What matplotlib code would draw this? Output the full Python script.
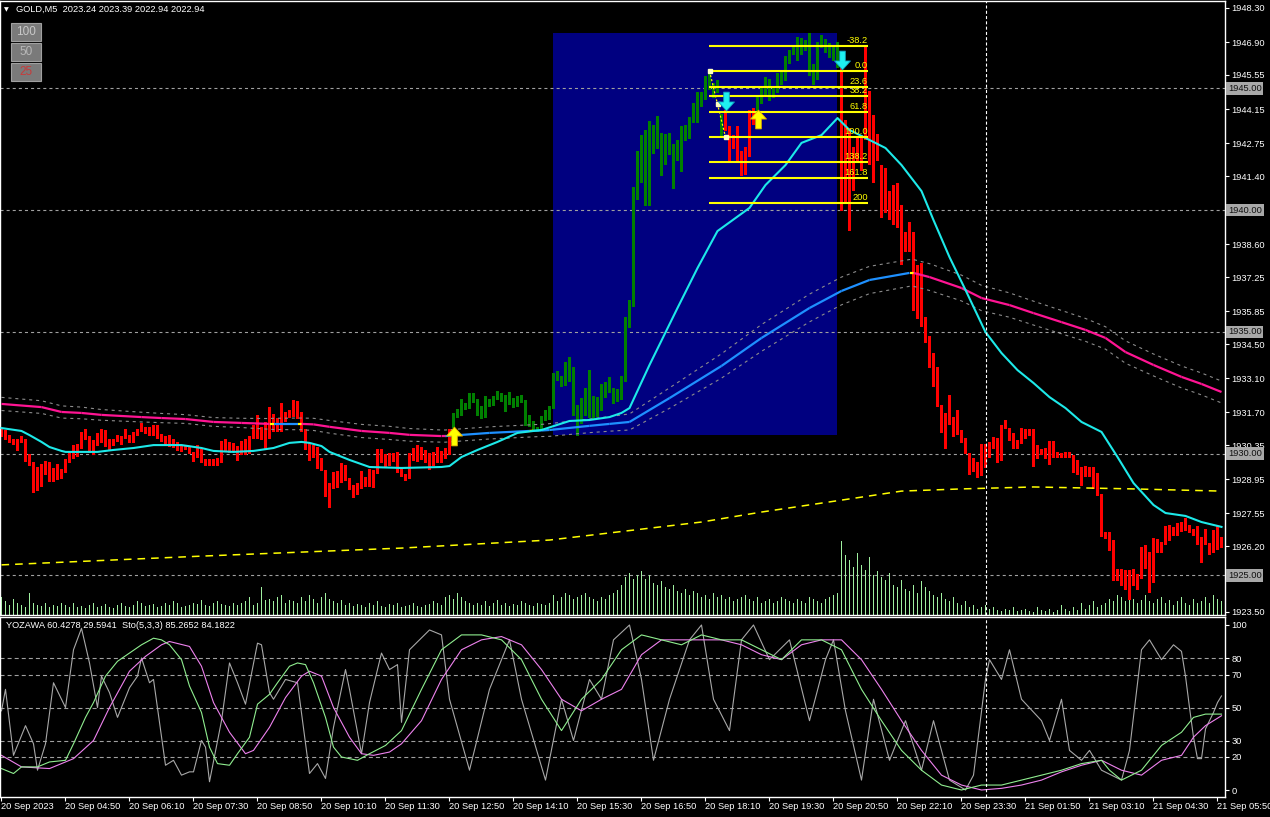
import matplotlib
matplotlib.use('Agg')
import matplotlib.pyplot as plt
import matplotlib.transforms as mtransforms
from matplotlib.patches import Rectangle
from matplotlib.path import Path
from matplotlib.collections import LineCollection
import numpy as np

plt.rcParams['font.family'] = ['Liberation Sans', 'DejaVu Sans']
plt.rcParams['lines.scale_dashes'] = False

# ---------------- DATA ----------------
title_text = "GOLD,M5  2023.24 2023.39 2022.94 2022.94"
osc_text = "YOZAWA 60.4278 29.5941  Sto(5,3,3) 85.2652 84.1822"

time_labels = ["20 Sep 2023", "20 Sep 04:50", "20 Sep 06:10", "20 Sep 07:30", "20 Sep 08:50",
               "20 Sep 10:10", "20 Sep 11:30", "20 Sep 12:50", "20 Sep 14:10", "20 Sep 15:30",
               "20 Sep 16:50", "20 Sep 18:10", "20 Sep 19:30", "20 Sep 20:50", "20 Sep 22:10",
               "20 Sep 23:30", "21 Sep 01:50", "21 Sep 03:10", "21 Sep 04:30", "21 Sep 05:50"]
time_label_bars = list(range(0, 305, 16))

price_ticks = [1948.30, 1946.90, 1945.55, 1944.15, 1942.75, 1941.40, 1940.00, 1938.60, 1937.25,
               1935.85, 1934.50, 1933.10, 1931.70, 1930.35, 1928.95, 1927.55, 1926.20, 1924.85, 1923.50]
level_lines = [1945.00, 1940.00, 1935.00, 1930.00, 1925.00]
osc_ticks = [100, 80, 70, 50, 30, 20, 0]
osc_levels = [80, 70, 50, 30, 20]

body_top = [
 1931.03, 1930.97, 1930.76, 1930.58, 1930.58, 1930.72, 1930.62, 1929.98, 1929.67, 1929.43,
 1929.57, 1929.69, 1929.67, 1929.39, 1929.57, 1929.35, 1929.76, 1930.12, 1930.35, 1930.39,
 1930.90, 1930.99, 1930.72, 1930.56, 1930.86, 1931.03, 1930.97, 1930.58, 1930.58, 1930.76,
 1930.72, 1930.99, 1930.76, 1930.90, 1930.99, 1931.27, 1931.10, 1931.10, 1931.17, 1931.17,
 1930.80, 1930.72, 1930.76, 1930.58, 1930.49, 1930.35, 1930.35, 1930.28, 1930.08, 1930.35,
 1930.17, 1929.78, 1929.78, 1929.78, 1929.84, 1930.52, 1930.58, 1930.49, 1930.45, 1930.31,
 1930.52, 1930.58, 1930.72, 1931.17, 1931.58, 1931.10, 1931.31, 1931.90, 1931.62, 1931.45,
 1932.06, 1931.72, 1931.79, 1932.20, 1932.16, 1931.69, 1931.03, 1930.42, 1930.35, 1930.28,
 1929.81, 1929.33, 1928.81, 1929.26, 1929.29, 1929.63, 1929.53, 1929.00, 1928.71, 1928.81,
 1929.30, 1929.05, 1929.37, 1929.33, 1930.19, 1930.19, 1929.98, 1930.01, 1930.01, 1930.07,
 1929.40, 1929.16, 1930.01, 1930.24, 1930.35, 1930.26, 1930.15, 1930.01, 1930.08, 1930.28,
 1930.11, 1930.24, 1931.01, 1931.68, 1931.83, 1932.24, 1932.06, 1932.50, 1932.50, 1932.24,
 1931.96, 1932.37, 1932.24, 1932.37, 1932.57, 1932.48, 1932.41, 1932.52, 1932.28, 1932.37,
 1932.41, 1932.20, 1931.59, 1931.34, 1931.11, 1931.55, 1931.79, 1931.96, 1933.30, 1933.39,
 1933.19, 1933.78, 1933.95, 1933.54, 1932.00, 1932.30, 1932.71, 1933.43, 1932.37, 1932.34,
 1932.86, 1932.93, 1933.13, 1932.71, 1932.65, 1933.19, 1935.62, 1936.31, 1940.95, 1942.41,
 1943.10, 1943.30, 1943.65, 1943.48, 1943.85, 1943.17, 1943.13, 1943.17, 1942.72, 1942.87,
 1943.44, 1943.48, 1943.81, 1944.40, 1944.84, 1944.84, 1945.52, 1945.70, 1945.22, 1945.36,
 1943.95, 1944.13, 1943.47, 1943.10, 1943.44, 1942.41, 1942.59, 1944.13, 1944.19, 1944.74,
 1945.08, 1945.45, 1945.39, 1945.08, 1945.63, 1945.77, 1946.34, 1946.59, 1946.80, 1947.10,
 1947.07, 1946.97, 1947.27, 1946.00, 1946.91, 1947.18, 1947.04, 1946.86, 1946.73, 1946.91,
 1945.97, 1943.72, 1943.37, 1942.58, 1942.96, 1943.10, 1946.73, 1944.88, 1943.92, 1943.13,
 1941.87, 1941.73, 1940.80, 1941.02, 1941.11, 1940.22, 1939.11, 1939.52, 1939.11, 1937.74,
 1937.81, 1935.62, 1934.83, 1934.14, 1933.57, 1931.99, 1931.68, 1932.40, 1931.51, 1931.79,
 1930.97, 1930.66, 1930.01, 1929.80, 1929.66, 1930.39, 1930.39, 1930.49, 1930.69, 1930.66,
 1931.17, 1931.38, 1931.07, 1930.86, 1930.56, 1931.07, 1931.03, 1931.03, 1930.99, 1930.35,
 1930.18, 1930.21, 1930.51, 1930.51, 1930.07, 1930.01, 1930.07, 1930.07, 1929.94, 1929.73,
 1929.46, 1929.49, 1929.46, 1929.43, 1929.19, 1928.34, 1926.79, 1926.79, 1926.45, 1925.28,
 1925.28, 1925.22, 1925.22, 1925.28, 1925.05, 1926.15, 1926.24, 1925.97, 1926.52, 1926.48,
 1926.38, 1927.02, 1927.06, 1926.97, 1927.13, 1927.20, 1927.37, 1927.06, 1926.89, 1927.02,
 1926.56, 1926.89, 1926.34, 1926.86, 1927.02, 1926.56]

body_bot = [
 1930.67, 1930.56, 1930.42, 1930.35, 1930.12, 1930.42, 1929.67, 1929.49, 1928.37, 1928.48,
 1928.64, 1929.12, 1928.85, 1928.85, 1928.91, 1928.97, 1929.19, 1929.63, 1929.76, 1929.87,
 1930.19, 1930.56, 1930.01, 1929.94, 1930.31, 1930.45, 1930.28, 1930.15, 1930.31, 1930.49,
 1930.35, 1930.58, 1930.42, 1930.45, 1930.72, 1930.90, 1930.80, 1930.72, 1930.72, 1930.58,
 1930.49, 1930.35, 1930.28, 1930.21, 1930.12, 1930.08, 1930.15, 1929.98, 1929.67, 1929.80,
 1929.60, 1929.49, 1929.49, 1929.49, 1929.49, 1929.63, 1930.12, 1930.01, 1930.08, 1929.69,
 1929.94, 1929.94, 1929.98, 1930.58, 1930.58, 1930.56, 1930.17, 1930.58, 1930.90, 1930.90,
 1930.90, 1931.31, 1931.45, 1931.51, 1931.41, 1930.90, 1930.15, 1929.69, 1929.84, 1929.35,
 1929.30, 1928.20, 1927.78, 1928.53, 1928.60, 1928.78, 1928.88, 1928.50, 1928.19, 1928.30,
 1928.53, 1928.64, 1928.64, 1928.60, 1929.16, 1929.63, 1929.46, 1929.51, 1929.67, 1929.22,
 1929.03, 1928.88, 1928.96, 1929.70, 1929.67, 1929.74, 1929.63, 1929.33, 1929.51, 1929.63,
 1929.63, 1929.78, 1929.94, 1931.04, 1931.48, 1931.56, 1931.79, 1931.83, 1932.09, 1931.56,
 1931.41, 1931.48, 1931.93, 1931.96, 1932.20, 1932.13, 1931.72, 1932.00, 1931.89, 1931.93,
 1932.09, 1931.15, 1931.11, 1930.97, 1930.90, 1930.97, 1931.35, 1931.38, 1931.83, 1932.98,
 1932.75, 1932.79, 1932.96, 1931.55, 1930.74, 1931.20, 1931.56, 1931.48, 1931.38, 1931.52,
 1931.75, 1932.30, 1932.48, 1932.02, 1932.13, 1932.20, 1932.96, 1935.14, 1936.02, 1940.43,
 1941.11, 1940.18, 1940.18, 1942.32, 1942.52, 1941.42, 1941.87, 1942.28, 1940.88, 1942.00,
 1941.57, 1942.83, 1942.92, 1943.58, 1943.58, 1944.24, 1944.54, 1944.95, 1944.61, 1944.81,
 1942.99, 1943.24, 1942.03, 1942.52, 1942.03, 1941.42, 1941.46, 1942.17, 1943.51, 1944.06,
 1944.36, 1944.74, 1944.50, 1944.61, 1944.81, 1945.13, 1945.32, 1946.00, 1946.38, 1946.11,
 1946.38, 1946.52, 1945.52, 1945.15, 1945.36, 1946.66, 1946.45, 1946.25, 1946.11, 1945.84,
 1939.95, 1940.29, 1939.16, 1940.77, 1942.00, 1941.59, 1942.89, 1941.87, 1941.11, 1942.00,
 1939.68, 1939.88, 1939.61, 1939.40, 1939.27, 1937.74, 1938.29, 1938.29, 1935.87, 1935.52,
 1935.21, 1934.55, 1933.53, 1932.72, 1931.90, 1930.83, 1930.19, 1931.17, 1930.69, 1930.76,
 1930.45, 1929.97, 1929.12, 1929.25, 1929.01, 1929.08, 1929.39, 1929.84, 1930.17, 1929.60,
 1929.71, 1931.03, 1930.53, 1930.17, 1930.17, 1930.38, 1930.60, 1930.72, 1929.46, 1929.76,
 1929.94, 1929.76, 1929.53, 1929.80, 1929.80, 1929.80, 1929.80, 1929.80, 1929.21, 1929.12,
 1928.66, 1929.05, 1929.05, 1928.53, 1928.26, 1926.59, 1926.48, 1925.99, 1924.78, 1924.78,
 1924.56, 1924.39, 1923.98, 1924.56, 1924.39, 1924.83, 1925.28, 1924.28, 1924.70, 1925.93,
 1925.90, 1926.24, 1926.42, 1926.61, 1926.61, 1926.79, 1926.83, 1926.72, 1926.61, 1926.24,
 1925.52, 1926.24, 1925.83, 1925.90, 1926.04, 1926.11]

# trend regimes: (first bar, last bar, kind)
regimes = [(0, 112, 'down'), (113, 180, 'up'), (181, 188, 'down'), (189, 209, 'up'), (210, 305, 'down')]

volume = [
 180, 140, 100, 160, 120, 100, 80, 220, 120, 100, 90, 120, 80, 100, 90, 120, 100, 80, 120, 80,
 90, 70, 100, 120, 80, 90, 110, 80, 70, 100, 120, 90, 80, 100, 140, 120, 90, 100, 110, 80,
 90, 120, 100, 140, 120, 80, 90, 100, 120, 110, 150, 100, 90, 120, 140, 110, 100, 90, 120, 100,
 120, 140, 180, 100, 120, 280, 150, 160, 140, 180, 200, 120, 150, 140, 120, 180, 140, 200, 160, 120,
 180, 220, 160, 140, 120, 150, 100, 120, 90, 110, 100, 80, 120, 100, 140, 90, 80, 110, 100, 120,
 80, 90, 100, 120, 90, 80, 100, 110, 140, 120, 100, 180, 200, 160, 220, 180, 140, 120, 100, 120,
 100, 140, 90, 120, 150, 100, 120, 90, 110, 100, 140, 120, 100, 90, 120, 110, 100, 120, 200, 140,
 180, 220, 200, 160, 180, 200, 220, 180, 160, 140, 180, 160, 200, 220, 250, 300, 380, 420, 360, 400,
 440, 360, 400, 320, 300, 340, 280, 260, 300, 240, 220, 260, 200, 240, 220, 180, 200, 160, 220, 180,
 200, 160, 180, 140, 160, 180, 200, 160, 140, 180, 120, 140, 160, 120, 140, 180, 160, 140, 120, 160,
 140, 120, 180, 160, 140, 120, 160, 180, 200, 220,
 740, 600, 550, 480, 620, 500, 450, 580, 400, 440, 380, 350, 420, 300, 280, 350, 260, 240, 300, 220,
 340, 280, 240, 200, 180, 220, 160, 140, 180, 120, 100, 140, 80, 100, 60, 80, 100, 60, 80, 50,
 40, 60, 50, 80, 40, 50, 60, 40, 30, 80, 50, 40, 60, 30, 50, 100, 60, 40, 80, 50,
 120, 60, 100, 140, 80, 100, 120, 160, 140, 200, 180, 140, 220, 160, 120, 150, 200, 140, 120, 160,
 180, 120, 150, 100, 140, 180, 120, 100, 160, 120, 140, 180, 120, 200, 160, 140]

fast_ma_bars = [0, 5, 7, 10, 12, 15, 16, 24, 28, 33, 38, 45, 50, 53, 58, 63, 68, 72, 75, 77, 80, 82, 87,
                92, 100, 110, 112, 115, 119, 124, 129, 135, 142, 147, 152, 155, 157, 162, 169, 174,
                179, 187, 191, 196, 200, 205, 209, 212, 217, 221, 225, 230, 233, 237, 241, 246, 250,
                254, 258, 262, 266, 270, 275, 279, 283, 288, 291, 296, 300, 305]
fast_ma_vals = [1931.05, 1930.93, 1930.76, 1930.48, 1930.27, 1930.11, 1930.07, 1930.07, 1930.15, 1930.23,
                1930.35, 1930.35, 1930.23, 1930.11, 1930.07, 1930.11, 1930.23, 1930.44, 1930.48, 1930.44,
                1930.31, 1930.07, 1929.74, 1929.45, 1929.41, 1929.45, 1929.49, 1929.86, 1930.15, 1930.48,
                1930.85, 1930.97, 1931.34, 1931.38, 1931.50, 1931.67, 1931.87, 1933.64, 1935.98, 1937.62,
                1939.14, 1940.09, 1941.03, 1941.85, 1942.76, 1943.08, 1943.78, 1943.29, 1942.88, 1942.55,
                1941.85, 1940.78, 1939.59, 1938.07, 1936.72, 1934.99, 1934.13, 1933.43, 1932.90, 1932.32,
                1931.87, 1931.30, 1930.89, 1929.86, 1928.79, 1927.89, 1927.56, 1927.44, 1927.19, 1926.99]

slow_ma_bars = [0, 10, 15, 20, 25, 35, 40, 46, 53, 60, 67, 68, 74, 75, 78, 82, 90, 97, 102, 110, 111,
                122, 132, 133, 135, 137, 147, 152, 157, 167, 180, 190, 202, 210, 217, 227, 228, 232,
                240, 245, 252, 258, 265, 271, 276, 281, 288, 295, 300, 305]
slow_ma_vals = [1932.04, 1931.91, 1931.71, 1931.67, 1931.59, 1931.50, 1931.46, 1931.42, 1931.30, 1931.26,
                1931.22, 1931.22, 1931.22, 1931.22, 1931.20, 1931.10, 1930.93, 1930.85, 1930.77, 1930.72,
                1930.72, 1930.85, 1930.93, 1930.94, 1930.95, 1930.97, 1931.14, 1931.22, 1931.30, 1932.28,
                1933.60, 1934.75, 1935.98, 1936.68, 1937.13, 1937.42, 1937.42, 1937.25, 1936.80, 1936.39,
                1936.10, 1935.77, 1935.40, 1935.08, 1934.75, 1934.17, 1933.64, 1933.15, 1932.86, 1932.53]
slow_ma_band = [0.27, 0.26, 0.25, 0.24, 0.22, 0.2, 0.19, 0.18, 0.18, 0.19, 0.22, 0.23, 0.24, 0.24, 0.25,
                0.26, 0.27, 0.27, 0.26, 0.25, 0.25, 0.25, 0.25, 0.25, 0.25, 0.26, 0.28, 0.3, 0.33, 0.42,
                0.5, 0.55, 0.57, 0.57, 0.56, 0.55, 0.55, 0.55, 0.53, 0.52, 0.5, 0.49, 0.48, 0.47, 0.46,
                0.46, 0.45, 0.45, 0.45, 0.45]
# state of the slow average between consecutive sample points
slow_ma_state = ['dn'] * 10 + ['x', 'up', 'x'] + ['dn'] * 7 + ['up'] * 2 + ['x'] + ['up'] * 12 + ['x'] + ['dn'] * 15

long_ma_bars = [0, 50, 100, 137, 175, 190, 210, 225, 240, 258, 283, 305]
long_ma_vals = [1925.43, 1925.79, 1926.12, 1926.45, 1927.19, 1927.60, 1928.09, 1928.46, 1928.55,
                1928.63, 1928.55, 1928.46]

fib_price_0 = 1945.71
fib_price_100 = 1943.00
fib_levels = [-38.2, 0.0, 23.6, 38.2, 61.8, 100.0, 138.2, 161.8, 200]
fib_labels = ["-38.2", "0.0", "23.6", "38.2", "61.8", "100.0", "138.2", "161.8", "200"]
fib_bar_start, fib_bar_end = 176.9, 216.6
fib_anchor_bars = [177, 179, 181]

box_bars = (137.9, 208.9)
box_prices = (1930.76, 1947.27)

up_arrows_bars = [113, 189]
up_arrows_prices = [1930.72, 1943.74]
down_arrows_bars = [181, 210]
down_arrows_prices = [1944.48, 1946.16]

cursor_bar = 246.1

gray_bars = [0, 1, 3, 6, 8, 9, 11, 13, 16, 18, 20, 22, 24, 25, 27, 29, 32, 34, 35, 37, 38, 41, 43, 45, 47,
             48, 50, 51, 52, 55, 57, 59, 61, 64, 65, 67, 68, 71, 74, 77, 79, 81, 83, 86, 87, 90, 92, 95,
             97, 99, 100, 102, 107, 110, 112, 117, 122, 127, 130, 136, 140, 143, 147, 150, 153, 157, 160,
             163, 167, 172, 175, 178, 182, 185, 188, 192, 197, 202, 206, 208, 211, 215, 218, 222, 226,
             230, 233, 237, 241, 243, 246, 247, 250, 252, 255, 260, 262, 265, 267, 270, 272, 275, 280,
             282, 285, 287, 290, 293, 295, 296, 297, 298, 299, 300, 301, 303, 304, 305]
gray_vals = [48, 61, 21, 39, 28, 12, 28, 65, 50, 85, 98, 77, 50, 69, 59, 44, 62, 69, 80, 65, 67, 15, 18, 9, 11,
             11, 30, 26, 5, 42, 77, 65, 52, 89, 88, 59, 55, 67, 65, 10, 16, 7, 38, 73, 61, 22, 53, 83,
             73, 76, 41, 85, 97, 94, 55, 12, 61, 91, 55, 6, 55, 30, 67, 55, 91, 100, 67,
             18, 55, 91, 100, 55, 36, 91, 100, 79, 91, 42, 79, 91, 48, 6, 55, 18, 42,
             12, 42, 6, 0, 9, 67, 79, 67, 85, 55, 42, 30, 55, 24, 18, 24, 12, 6,
             24, 85, 91, 79, 88, 84, 69, 50, 32, 19, 19, 37, 47, 53, 57]

green_bars = [0, 3, 5, 9, 12, 16, 18, 21, 23, 26, 29, 32, 35, 38, 40, 42, 45, 47, 50, 52, 54, 57, 59, 62,
              64, 67, 69, 72, 74, 76, 78, 81, 83, 85, 89, 92, 96, 100, 105, 110, 115, 120, 125, 130, 135,
              140, 145, 150, 155, 160, 165, 170, 175, 180, 185, 190, 195, 200, 205, 210, 215, 220, 225,
              230, 235, 240, 245, 250, 255, 260, 265, 270, 275, 277, 280, 285, 290, 295, 298, 301, 305]
green_vals = [13, 10, 14, 14, 17, 18, 28, 44, 53, 69, 78, 83, 88, 92, 91, 88, 79, 63, 47, 26, 16, 15, 22, 32,
              52, 58, 65, 75, 77, 76, 65, 44, 26, 20, 18, 22, 27, 36, 61, 85, 94, 94, 91, 79, 55,
              36, 55, 67, 85, 94, 91, 88, 94, 91, 91, 85, 79, 91, 91, 85, 61, 42, 24,
              12, 3, 0, 3, 3, 6, 9, 12, 16, 18, 12, 6, 12, 27, 35, 44, 46, 46]

violet_bars = [0, 5, 12, 18, 23, 27, 32, 36, 40, 42, 47, 50, 53, 57, 61, 63, 67, 71, 75, 77, 80, 83, 87, 90,
               93, 97, 100, 105, 110, 115, 120, 125, 130, 135, 140, 145, 150, 155, 160, 165, 170, 175,
               180, 185, 190, 195, 200, 205, 210, 215, 220, 225, 230, 235, 240, 245, 250, 255, 260, 265,
               270, 275, 280, 285, 290, 295, 298, 301, 305]
violet_vals = [21, 14, 13, 19, 30, 50, 72, 81, 88, 90, 87, 75, 53, 35, 22, 24, 38, 56, 69, 72, 69, 50, 32, 22,
               21, 23, 28, 42, 67, 85, 91, 93, 88, 73, 55, 48, 55, 61, 82, 91, 91, 91,
               91, 88, 82, 79, 88, 91, 91, 79, 61, 42, 24, 9, 3, 0, 1, 3, 6, 11,
               15, 18, 12, 9, 18, 21, 32, 39, 45]

# ---------------- STYLE ----------------
BG = 'black'
C_DOWN = '#FF0000'
C_UP = '#008000'
C_BOX = '#000080'
C_FAST = '#1DE9E9'
C_SLOW_DN = '#FF1493'
C_SLOW_UP = '#1E90FF'
C_X = '#FFFF00'
C_VOL = '#A0F0A0'
C_GRID = '#A0A0A0'
FS = 6.7

W, H = 1270, 817
fig = plt.figure(figsize=(W / 100, H / 100), dpi=100, facecolor=BG)

def fy(py):
    return 1 - py / H

ax = fig.add_axes([0, fy(615), 1225 / W, fy(1) - fy(615)])
axo = fig.add_axes([0, fy(797), 1225 / W, fy(617) - fy(797)])

def price_at(py):
    return 1948.30 - (py - 8) / 24.35

for a in (ax, axo):
    a.set_facecolor(BG)
    a.set_xlim(-0.375, 305.875)
    for s in a.spines.values():
        s.set_color('white')
        s.set_linewidth(1.0)
ax.set_ylim(price_at(615), price_at(1))
axo.set_ylim((790 - 797) / 1.65, (790 - 617) / 1.65)

# blue box
ax.add_patch(Rectangle((box_bars[0], box_prices[0]), box_bars[1] - box_bars[0],
                       box_prices[1] - box_prices[0], facecolor=C_BOX, edgecolor='none', zorder=0.5))

# level lines
for lv in level_lines:
    ax.axhline(lv, color=C_GRID, lw=0.8, ls=(0, (2.2, 2.2)), zorder=1)

# volume
n = len(body_top)
idx = np.arange(n)
vol_top = 6140.0
ax.vlines(idx - 0.12, 0, np.array(volume) / vol_top, transform=ax.get_xaxis_transform(),
          color=C_VOL, lw=0.7, antialiased=False, zorder=1.2)

# candles
tops = np.array(body_top)
bots = np.array(body_bot)
cols = [C_DOWN] * n
for b0, b1, kind in regimes:
    for i in range(b0, b1 + 1):
        cols[i] = C_DOWN if kind == 'down' else C_UP
heights = np.maximum(tops - bots, 0.04)
ax.bar(idx, heights, bottom=bots, width=0.75, color=cols, linewidth=0, antialiased=False, zorder=2)

# slow MA envelope
sb = np.array(slow_ma_bars)
sv = np.array(slow_ma_vals)
sw = np.array(slow_ma_band)
ax.plot(sb, sv + sw, color='#8C8C8C', lw=0.8, ls=(0, (2.2, 2.8)), zorder=2.5)
ax.plot(sb, sv - sw, color='#8C8C8C', lw=0.8, ls=(0, (2.2, 2.8)), zorder=2.5)

# slow MA coloured
segs = [[(sb[i], sv[i]), (sb[i + 1], sv[i + 1])] for i in range(len(sb) - 1)]
seg_cols = [C_SLOW_DN if s == 'dn' else (C_SLOW_UP if s == 'up' else C_X) for s in slow_ma_state]
ax.add_collection(LineCollection(segs, colors=seg_cols, linewidths=1.6, zorder=3, capstyle='butt'))

# long MA (yellow dashed)
ax.plot(long_ma_bars, long_ma_vals, color=C_X, lw=1.1, ls=(0, (5.5, 4.3)), zorder=3)

# fast MA
ax.plot(fast_ma_bars, fast_ma_vals, color=C_FAST, lw=1.5, zorder=3.2)

# fib
rng = fib_price_0 - fib_price_100
for lvl, lab in zip(fib_levels, fib_labels):
    p = fib_price_0 - lvl / 100.0 * rng
    ax.hlines(p, fib_bar_start, fib_bar_end, color=C_X, lw=1.5, zorder=4)
    ax.text(fib_bar_end, p + 0.04, lab, color=C_X, fontsize=FS, ha='right', va='bottom', zorder=4.5)
anchor_p = [fib_price_0, (fib_price_0 + fib_price_100) / 2, fib_price_100]
ax.plot(fib_anchor_bars, anchor_p, color=C_X, lw=0.9, ls=(0, (1.5, 1.5)), zorder=4.2)
ax.plot(fib_anchor_bars, anchor_p, ls='none', marker='s', ms=2.5, mfc='#FFFFC0', mec='#FFFFC0', zorder=4.3)

# arrows
up_path = Path([(-0.85, 0.05), (0, 1), (0.85, 0.05), (0.3, 0.05), (0.3, -1), (-0.3, -1), (-0.3, 0.05), (-0.85, 0.05)],
               [Path.MOVETO] + [Path.LINETO] * 6 + [Path.CLOSEPOLY])
down_path = Path([(-0.85, -0.05), (0, -1), (0.85, -0.05), (0.3, -0.05), (0.3, 1), (-0.3, 1), (-0.3, -0.05), (-0.85, -0.05)],
                 [Path.MOVETO] + [Path.LINETO] * 6 + [Path.CLOSEPOLY])
ax.plot(up_arrows_bars, up_arrows_prices, ls='none', marker=up_path, ms=13.5, mfc='#FFFF00', mec='#E8B000', mew=0.6, zorder=5)
ax.plot(down_arrows_bars, down_arrows_prices, ls='none', marker=down_path, ms=13.5, mfc='#1EF0F0', mec='#10A0C0', mew=0.6, zorder=5)

# cursor line
for a in (ax, axo):
    a.axvline(cursor_bar, color='white', lw=0.8, ls=(0, (2.2, 1.6)), zorder=4)

# price axis (labels hidden under the highlighted level boxes are left blank)
ax.yaxis.tick_right()
ax.set_yticks(price_ticks)
covered = [p for p in price_ticks if any(abs(p - lv) < 0.2 for lv in level_lines)]
ax.set_yticklabels(["" if p in covered else f"{p:.2f}" for p in price_ticks])
ax.tick_params(axis='y', colors='white', labelcolor='white', labelsize=FS, length=2.6, width=0.8, pad=2)
ax.set_xticks([])
tr = mtransforms.blended_transform_factory(ax.transAxes, ax.transData)
for lv in level_lines:
    ax.text(1 + 3.0 / 1225, lv, f"{lv:.2f}", transform=tr, clip_on=False, color='#101010', fontsize=FS,
            ha='left', va='center', zorder=10,
            bbox=dict(boxstyle='square,pad=0.18', facecolor='#A8A8A8', edgecolor='none'))

# oscillator
for lv in osc_levels:
    axo.axhline(lv, color=C_GRID, lw=0.8, ls=(0, (2.9, 2.2)), zorder=1)
axo.plot(gray_bars, gray_vals, color='#A8A8A8', lw=0.8, zorder=2)
axo.plot(violet_bars, violet_vals, color='#EE82EE', lw=0.8, zorder=2.2)
axo.plot(green_bars, green_vals, color='#90EE90', lw=0.8, zorder=2.4)
axo.yaxis.tick_right()
axo.set_yticks(osc_ticks)
axo.set_yticklabels([str(t) for t in osc_ticks])
axo.tick_params(axis='y', colors='white', labelcolor='white', labelsize=FS, length=2.6, width=0.8, pad=2)
axo.set_xticks([b - 0.1 for b in time_label_bars])
axo.set_xticklabels(time_labels)
axo.tick_params(axis='x', colors='white', labelcolor='white', labelsize=FS, length=2.6, width=0.8, pad=1.2)
for lbl in axo.get_xticklabels():
    lbl.set_ha('left')
axo.text(6 / 1225, (790 - 626) / 1.65, osc_text, transform=mtransforms.blended_transform_factory(axo.transAxes, axo.transData),
         color='white', fontsize=FS, ha='left', va='center', zorder=6)

# header
fig.text(4 / W, fy(9.5), '\u25BC', color='white', fontsize=4.5, family='DejaVu Sans', ha='left', va='center')
fig.text(16 / W, fy(9.5), title_text, color='white', fontsize=FS, ha='left', va='center')

# buttons
for k, (lab, col) in enumerate([("100", '#C8C8C8'), ("50", '#B8B8B8'), ("25", '#C83A3A')]):
    y0 = 23 + 20 * k
    fig.add_artist(Rectangle((11 / W, fy(y0 + 18)), 30 / W, 18 / H, transform=fig.transFigure,
                             facecolor='#7A7A7A', edgecolor='#A0A0A0', lw=0.8))
    fig.text(26 / W, fy(y0 + 9), lab, color=col, fontsize=8.5, ha='center', va='center')

fig.savefig('out.png', dpi=100, facecolor=BG)
